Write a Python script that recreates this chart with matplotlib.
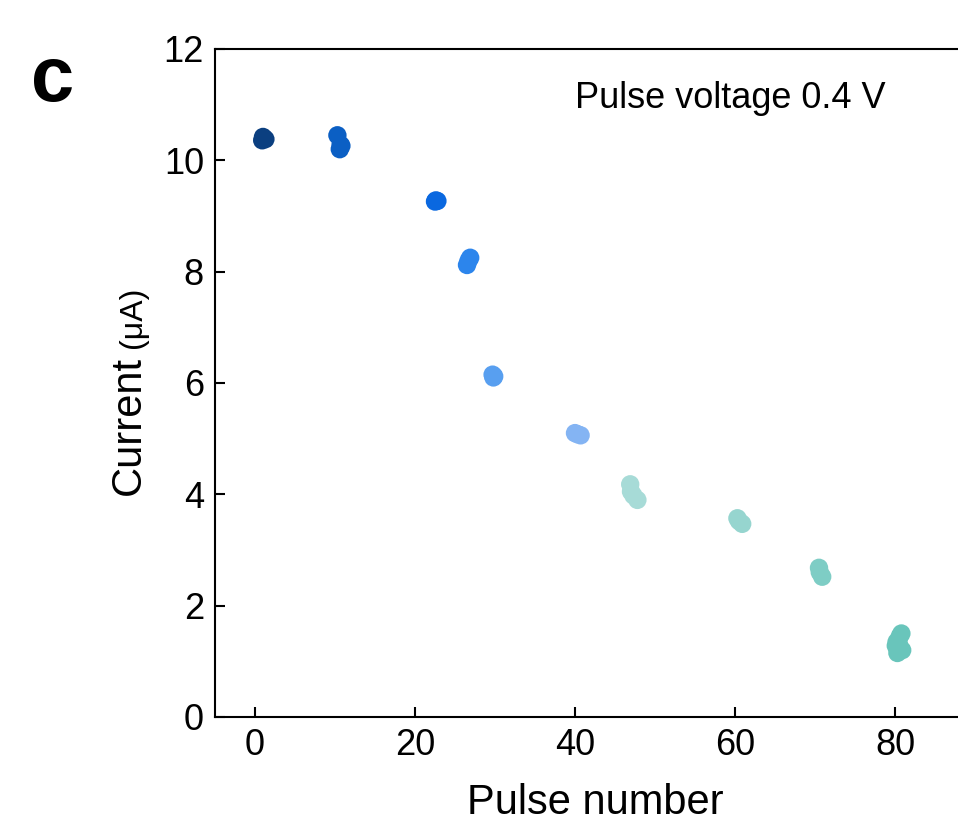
import numpy as np
import matplotlib
matplotlib.use("Agg")
import matplotlib.pyplot as plt

plt.rcParams['font.family'] = ['Liberation Sans', 'DejaVu Sans']

# pulse clusters
pulse = [
    [1.0, 1.3, 0.9],
    [10.3, 10.7, 10.6, 10.8],
    [22.6, 22.8, 22.5],
    [26.9, 26.5, 26.7],
    [29.7, 29.8, 29.9],
    [40.0, 40.7, 40.3],
    [46.9, 47.0, 47.3, 47.8],
    [60.3, 60.9, 60.5],
    [70.5, 70.9, 70.6],
    [80.2, 80.6, 80.8, 80.3, 80.9, 80.5, 80.1],
]
current = [
    [10.42, 10.38, 10.36],
    [10.45, 10.28, 10.20, 10.26],
    [9.28, 9.27, 9.26],
    [8.25, 8.12, 8.20],
    [6.15, 6.10, 6.12],
    [5.10, 5.06, 5.08],
    [4.18, 4.05, 3.98, 3.90],
    [3.57, 3.47, 3.52],
    [2.68, 2.52, 2.60],
    [1.35, 1.45, 1.50, 1.15, 1.20, 1.30, 1.28],
]
colors = ['#0b3f80', '#0b5fc4', '#0a68e0', '#2c85ec', '#589ff0',
          '#84b4f3', '#a7dbd7', '#96d5cf', '#7ecdc5', '#69c5bb']

fig = plt.figure(figsize=(9.58, 8.33), dpi=100)
ax = fig.add_axes([215 / 958, 1 - 717 / 833, 760 / 958, (717 - 49) / 833])

for xs, ys, c in zip(pulse, current, colors):
    ax.scatter(xs, ys, s=175, color=c, edgecolors='none', zorder=3)

ax.set_xlim(-5, 90)
ax.set_ylim(0, 12)
ax.set_xticks([0, 20, 40, 60, 80])
ax.set_yticks([0, 2, 4, 6, 8, 10, 12])
ax.tick_params(direction='in', length=7, width=1.5, labelsize=26, pad=8)
for sp in ax.spines.values():
    sp.set_linewidth(1.5)

ax.set_xlabel('Pulse number', fontsize=30, labelpad=14)

# y label: "Current" plus a smaller "(μA)"
t1 = fig.text(149 / 958, 1 - 495 / 833, 'Current', rotation=90,
              ha='right', va='bottom', fontsize=30)
ax.annotate('(μA)', xy=(1, 1), xycoords=t1, xytext=(-1, 8),
            textcoords='offset pixels', rotation=90, ha='right', va='bottom',
            fontsize=23, annotation_clip=False)

fig.text(575 / 958, 1 - 98 / 833, 'Pulse voltage 0.4 V', fontsize=26,
         ha='left', va='center')

fig.text(53 / 958, 1 - 80 / 833, 'c', fontsize=56, fontweight='bold',
         ha='center', va='center')

fig.savefig('out.png', dpi=100)
